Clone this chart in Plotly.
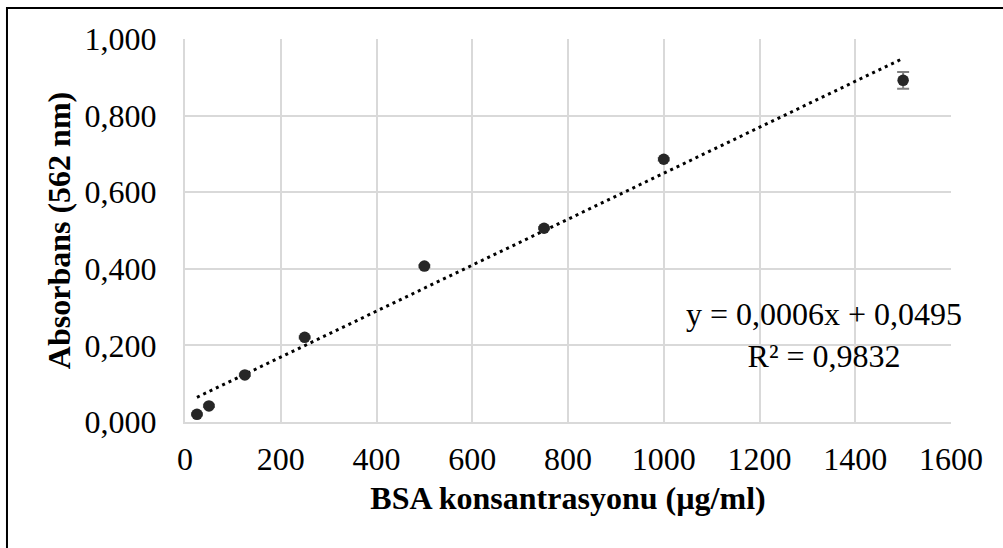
import plotly.graph_objects as go

# BSA standard curve data
concentration = [25, 50, 125, 250, 500, 750, 1000, 1500]
absorbance = [0.020, 0.042, 0.123, 0.221, 0.407, 0.506, 0.686, 0.892]
absorbance_err = [0.003, 0.003, 0.003, 0.003, 0.003, 0.003, 0.003, 0.022]

# Linear trendline as reported in the equation label
trend_slope = 0.0006
trend_intercept = 0.0495
trend_r2 = 0.9832

x_ticks = [0, 200, 400, 600, 800, 1000, 1200, 1400, 1600]
y_ticks = [0.0, 0.2, 0.4, 0.6, 0.8, 1.0]
y_ticktext = ["0,000", "0,200", "0,400", "0,600", "0,800", "1,000"]

FONT = "Liberation Serif"
FS = 32
GRID = "#d9d9d9"

trend_x = [concentration[0], concentration[-1]]
trend_y = [trend_slope * v + trend_intercept for v in trend_x]

fig = go.Figure()

fig.add_trace(go.Scatter(
    x=trend_x, y=trend_y, mode="lines",
    line=dict(color="#000000", width=3, dash="3px,4px"),
    hoverinfo="skip", showlegend=False,
))

fig.add_trace(go.Scatter(
    x=concentration, y=absorbance, mode="markers",
    marker=dict(color="#262626", size=11.5),
    error_y=dict(type="data", array=absorbance_err, visible=True,
                 color="#808080", thickness=2, width=6),
    showlegend=False,
))

eq_text = ("y = " + f"{trend_slope:.4f}".replace(".", ",") + "x + "
           + f"{trend_intercept:.4f}".replace(".", ",")
           + "<br>R² = " + f"{trend_r2:.4f}".replace(".", ","))

fig.add_annotation(
    x=1335, y=0.226, xref="x", yref="y", text=eq_text,
    showarrow=False, align="center",
    font=dict(family=FONT, size=FS, color="#000000"),
)

# outer chart frame
fig.add_shape(type="rect", xref="paper", yref="paper",
              x0=-0.2324, x1=1.07, y0=-0.5, y1=1.081,
              line=dict(color="#000000", width=2), fillcolor="rgba(0,0,0,0)",
              layer="below")

fig.update_layout(
    width=1003, height=548,
    margin=dict(l=185, r=52, t=39, b=126),
    paper_bgcolor="white", plot_bgcolor="white",
    separators=",.",
    font=dict(family=FONT, size=FS, color="#000000"),
    xaxis=dict(
        range=[0, 1600], tickvals=x_ticks, ticks="",
        showgrid=True, gridcolor=GRID, gridwidth=2,
        showline=True, linecolor=GRID, linewidth=2,
        zeroline=False, ticklabelstandoff=8,
        title=dict(text="<b>BSA konsantrasyonu (µg/ml)</b>",
                   font=dict(family=FONT, size=FS), standoff=10),
        tickfont=dict(family=FONT, size=FS),
    ),
    yaxis=dict(
        range=[0, 1.0], tickvals=y_ticks, ticktext=y_ticktext, ticks="",
        showgrid=True, gridcolor=GRID, gridwidth=2,
        showline=True, linecolor=GRID, linewidth=2,
        zeroline=False, ticklabelstandoff=20,
        title=dict(text="<b>Absorbans (562 nm)</b>",
                   font=dict(family=FONT, size=FS), standoff=4),
        tickfont=dict(family=FONT, size=FS),
    ),
)

fig.write_html("out.html")
